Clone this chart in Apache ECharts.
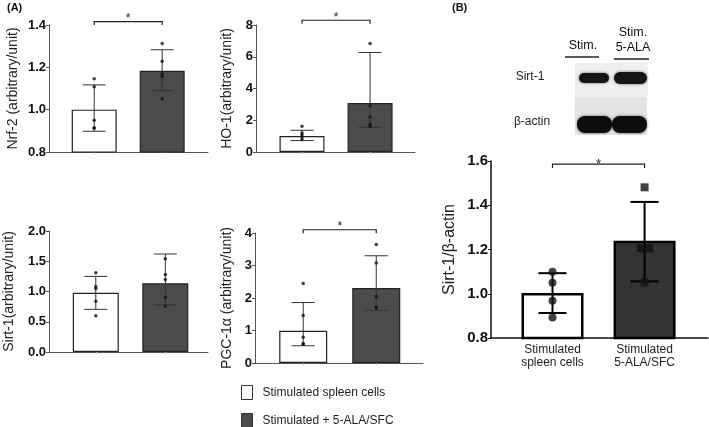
<!DOCTYPE html>
<html>
<head>
<meta charset="utf-8">
<script src="https://cdn.jsdelivr.net/npm/echarts@6/dist/echarts.min.js"></script>
<style>html,body{margin:0;padding:0;background:#fff;}#c{width:709px;height:427px;}</style>
</head>
<body>
<div id="c"></div>
<script>
// ---------------- DATA ----------------
const groupNames = ['Stimulated spleen cells', 'Stimulated + 5-ALA/SFC'];
const groupLabelsB = ['Stimulated\nspleen cells', 'Stimulated\n5-ALA/SFC'];

// Nrf-2
const nrf2Mean = [1.0, 1.184];
const nrf2ErrLow = [0.898, 1.09];
const nrf2ErrHigh = [1.117, 1.283];
const nrf2DotsCtrl = [1.146, 1.108, 0.95, 0.915, 0.912];
const nrf2DotsTrt = [1.313, 1.229, 1.168, 1.158, 1.051];
const nrf2Sig = 1.416;
const nrf2Ticks = [0.8, 1.4, 0.2];

// HO-1
const ho1Mean = [1.01, 3.09];
const ho1ErrLow = [0.72, 1.56];
const ho1ErrHigh = [1.37, 6.27];
const ho1DotsCtrl = [1.62, 1.2, 1.09, 0.95, 0.78];
const ho1DotsTrt = [6.84, 2.9, 2.2, 1.75, 1.6];
const ho1Sig = 8.3;
const ho1Ticks = [0, 8, 2];

// Sirt-1 (A)
const sirtMean = [0.98, 1.135];
const sirtErrLow = [0.705, 0.78];
const sirtErrHigh = [1.25, 1.62];
const sirtDotsCtrl = [1.31, 1.08, 1.05, 0.84, 0.6];
const sirtDotsTrt = [1.54, 1.28, 1.2, 0.9, 0.76];
const sirtSig = null;
const sirtTicks = [0, 2, 0.5];

// PGC-1a
const pgcMean = [0.99, 2.31];
const pgcErrLow = [0.53, 1.62];
const pgcErrHigh = [1.86, 3.3];
const pgcDotsCtrl = [2.45, 1.46, 0.79, 0.6, 0.58];
const pgcDotsTrt = [3.65, 3.08, 2.05, 1.69, 1.72];
const pgcSig = 4.1;
const pgcTicks = [0, 4, 1];

// Sirt-1/beta-actin (B)
const sirtBMean = [1.003, 1.24];
const sirtBErrLow = [0.913, 1.056];
const sirtBErrHigh = [1.093, 1.415];
const sirtBDotsCtrl = [1.1, 1.05, 0.968, 0.893];
const sirtBDotsTrt = [1.481, 1.205, 1.205, 1.051];
const sirtBSig = 1.586;
const sirtBTicks = [0.8, 1.6, 0.2];

// ---------------- LAYOUT ----------------
const FONT = 'Liberation Sans';
const jitterBTrt = [0, -0.04, 0.05, 0];

const panels = [
  {name: 'Nrf-2 (arbitrary/unit)', mean: nrf2Mean, lo: nrf2ErrLow, hi: nrf2ErrHigh, dc: nrf2DotsCtrl, dt: nrf2DotsTrt, sig: nrf2Sig, ticks: nrf2Ticks,
   grid: {left: 49, top: 25, width: 159, height: 127}, xr: [0.335, 2.674], barW: 45, gap: 29, style: 'A'},
  {name: 'HO-1(arbitrary/unit)', mean: ho1Mean, lo: ho1ErrLow, hi: ho1ErrHigh, dc: ho1DotsCtrl, dt: ho1DotsTrt, sig: ho1Sig, ticks: ho1Ticks,
   grid: {left: 256, top: 25, width: 159, height: 127}, xr: [0.324, 2.66], barW: 45, gap: 22, style: 'A'},
  {name: 'Sirt-1(arbitrary/unit)', mean: sirtMean, lo: sirtErrLow, hi: sirtErrHigh, dc: sirtDotsCtrl, dt: sirtDotsTrt, sig: sirtSig, ticks: sirtTicks,
   grid: {left: 49, top: 231, width: 159, height: 121}, xr: [0.327, 2.614], barW: 46, gap: 33, style: 'A'},
  {name: 'PGC-1\u03b1 (arbitrary/unit)', mean: pgcMean, lo: pgcErrLow, hi: pgcErrHigh, dc: pgcDotsCtrl, dt: pgcDotsTrt, sig: pgcSig, ticks: pgcTicks,
   grid: {left: 255, top: 233, width: 168, height: 130}, xr: [0.34, 2.64], barW: 48, gap: 21, style: 'A'},
  {name: 'Sirt-1/\u03b2-actin', mean: sirtBMean, lo: sirtBErrLow, hi: sirtBErrHigh, dc: sirtBDotsCtrl, dt: sirtBDotsTrt, sig: sirtBSig, ticks: sirtBTicks,
   grid: {left: 491, top: 161, width: 217, height: 177}, xr: [0.332, 2.689], barW: 62, gap: 33, style: 'B', jt: jitterBTrt}
];

const grids = [], xAxes = [], yAxes = [], series = [];

function errRender(capHalf, lw, color) {
  return function (params, api) {
    const x = api.value(0);
    const lo = api.coord([x, api.value(1)]);
    const hi = api.coord([x, api.value(2)]);
    const st = {stroke: color, lineWidth: lw};
    return {type: 'group', children: [
      {type: 'line', shape: {x1: lo[0], y1: lo[1], x2: hi[0], y2: hi[1]}, style: st},
      {type: 'line', shape: {x1: lo[0] - capHalf, y1: lo[1], x2: lo[0] + capHalf, y2: lo[1]}, style: st},
      {type: 'line', shape: {x1: hi[0] - capHalf, y1: hi[1], x2: hi[0] + capHalf, y2: hi[1]}, style: st}
    ]};
  };
}
function sigRender(tick, lw, color, starSize, starDy) {
  return function (params, api) {
    const a = api.coord([api.value(0), api.value(2)]);
    const b = api.coord([api.value(1), api.value(2)]);
    return {type: 'group', children: [
      {type: 'polyline', shape: {points: [[a[0], a[1] + tick], [a[0], a[1]], [b[0], b[1]], [b[0], b[1] + tick]]},
       style: {stroke: color, lineWidth: lw, fill: null}},
      {type: 'text', style: {text: '*', x: (a[0] + b[0]) / 2, y: a[1] + starDy, align: 'center', verticalAlign: 'middle',
       font: starSize + 'px ' + FONT, fill: color}}
    ]};
  };
}

panels.forEach((p, i) => {
  const isB = p.style === 'B';
  grids.push(Object.assign({containLabel: false}, p.grid));
  const axisCol = isB ? '#111' : '#555';
  xAxes.push({
    type: 'value', gridIndex: i, min: p.xr[0], max: p.xr[1],
    splitLine: {show: false},
    axisLine: {show: true, onZero: false, lineStyle: {color: axisCol, width: isB ? 1.5 : 1}},
    axisTick: {show: !isB, length: 2, customValues: [1, 2], lineStyle: {color: '#bbb'}},
    axisLabel: isB ? {show: true, customValues: [1, 2], formatter: v => groupLabelsB[Math.round(v) - 1],
      fontFamily: FONT, fontSize: 12, color: '#222', margin: 5, lineHeight: 13} : {show: false}
  });
  yAxes.push({
    type: 'value', gridIndex: i, min: p.ticks[0], max: p.ticks[1], interval: p.ticks[2],
    splitLine: {show: false},
    axisLine: {show: true, lineStyle: {color: axisCol, width: isB ? 1.5 : 1}},
    axisTick: {show: true, length: 3, lineStyle: {color: axisCol}},
    axisLabel: {fontFamily: FONT, fontWeight: 'bold', fontSize: isB ? 15 : 13, color: '#111', margin: 3,
      formatter: v => (p.ticks[2] >= 1 ? String(Math.round(v)) : v.toFixed(1))},
    name: p.name, nameLocation: 'middle', nameRotate: 90, nameGap: p.gap,
    nameTextStyle: {fontFamily: FONT, fontSize: isB ? 16 : 14, color: '#222'}
  });
  const bw = isB ? 2.5 : 1.2;
  const names = isB ? ['B ctrl', 'B trt'] : groupNames;
  series.push({
    type: 'bar', name: names[0], xAxisIndex: i, yAxisIndex: i, barWidth: p.barW, barGap: '-100%', z: 2,
    data: [[1, p.mean[0]]], itemStyle: {color: '#ffffff', borderColor: isB ? '#000' : '#222', borderWidth: bw},
    silent: true
  });
  series.push({
    type: 'bar', name: names[1], xAxisIndex: i, yAxisIndex: i, barWidth: p.barW, barGap: '-100%', z: 2,
    data: [[2, p.mean[1]]], itemStyle: {color: isB ? '#333333' : '#4b4b4b', borderColor: isB ? '#000' : '#222', borderWidth: bw},
    silent: true
  });
  series.push({
    type: 'custom', xAxisIndex: i, yAxisIndex: i, z: 3, silent: true,
    renderItem: errRender(isB ? 14 : 11.5, isB ? 2 : 1, isB ? '#000' : '#333'),
    encode: {x: 0, y: [1, 2]},
    data: [[1, p.lo[0], p.hi[0]], [2, p.lo[1], p.hi[1]]]
  });
  series.push({
    type: 'scatter', xAxisIndex: i, yAxisIndex: i, z: 4, silent: true,
    symbol: 'circle', symbolSize: isB ? 8 : 3.5, itemStyle: {color: '#111'},
    data: p.dc.map(v => [1, v])
  });
  series.push({
    type: 'scatter', xAxisIndex: i, yAxisIndex: i, z: 4, silent: true,
    symbol: isB ? 'rect' : 'circle', symbolSize: isB ? 8 : 3.5, itemStyle: {color: '#111'},
    data: p.dt.map((v, k) => [2 + (p.jt ? p.jt[k] : 0), v])
  });
  if (p.sig !== null) {
    series.push({
      type: 'custom', xAxisIndex: i, yAxisIndex: i, z: 5, silent: true, clip: false,
      renderItem: isB ? sigRender(4, 1.2, '#222', 13, 0) : sigRender(3.5, 1.2, '#222', 12, -3),
      encode: {x: [0, 1], y: 2},
      data: [[1, 2, p.sig]]
    });
  }
});

const graphic = [
  {type: 'rect', shape: {x: 575, y: 63, width: 73, height: 34}, style: {fill: '#efefef'}},
  {type: 'rect', shape: {x: 579, y: 73, width: 30, height: 10, r: 5}, style: {fill: '#151515', shadowBlur: 3, shadowColor: 'rgba(0,0,0,0.6)'}},
  {type: 'rect', shape: {x: 614, y: 72, width: 33, height: 12, r: 6}, style: {fill: '#151515', shadowBlur: 3, shadowColor: 'rgba(0,0,0,0.6)'}},
  {type: 'rect', shape: {x: 575, y: 97, width: 72, height: 38}, style: {fill: '#e4e4e4'}},
  {type: 'rect', shape: {x: 577, y: 116, width: 35, height: 17, r: 8}, style: {fill: '#0d0d0d', shadowBlur: 3, shadowColor: 'rgba(0,0,0,0.6)'}},
  {type: 'rect', shape: {x: 612, y: 116, width: 35, height: 17, r: 8}, style: {fill: '#0d0d0d', shadowBlur: 3, shadowColor: 'rgba(0,0,0,0.6)'}},
  {type: 'text', style: {text: 'Stim.', x: 583, y: 46, align: 'center', verticalAlign: 'middle', font: '12.5px ' + FONT, fill: '#111'}},
  {type: 'line', shape: {x1: 565, y1: 57, x2: 599, y2: 57}, style: {stroke: '#222', lineWidth: 1.5}},
  {type: 'text', style: {text: 'Stim.', x: 633, y: 33, align: 'center', verticalAlign: 'middle', font: '12.5px ' + FONT, fill: '#111'}},
  {type: 'text', style: {text: '5-ALA', x: 633, y: 48, align: 'center', verticalAlign: 'middle', font: '12.5px ' + FONT, fill: '#111'}},
  {type: 'line', shape: {x1: 614, y1: 59, x2: 649, y2: 59}, style: {stroke: '#222', lineWidth: 1.5}},
  {type: 'text', style: {text: 'Sirt-1', x: 530, y: 77, align: 'center', verticalAlign: 'middle', font: '12px ' + FONT, fill: '#222'}},
  {type: 'text', style: {text: '\u03b2-actin', x: 532, y: 122, align: 'center', verticalAlign: 'middle', font: '12px ' + FONT, fill: '#222'}},
  {type: 'text', style: {text: '(A)', x: 7, y: 2, font: 'bold 11px ' + FONT, fill: '#111'}},
  {type: 'text', style: {text: '(B)', x: 452, y: 2, font: 'bold 11px ' + FONT, fill: '#111'}}
];

const chart = echarts.init(document.getElementById('c'), null, {renderer: 'canvas'});
chart.setOption({
  animation: false,
  backgroundColor: '#fff',
  textStyle: {fontFamily: FONT},
  grid: grids,
  xAxis: xAxes,
  yAxis: yAxes,
  legend: {
    orient: 'vertical', left: 241, top: 385, itemWidth: 11, itemHeight: 14, itemGap: 13, padding: 0,
    height: 60,
    selectedMode: false,
    textStyle: {fontFamily: FONT, fontSize: 12, color: '#222', padding: [0, 0, 0, 5]},
    data: [
      {name: groupNames[0], icon: 'rect', itemStyle: {color: '#fff', borderColor: '#333', borderWidth: 1}},
      {name: groupNames[1], icon: 'rect', itemStyle: {color: '#4b4b4b', borderColor: '#333', borderWidth: 1}}
    ]
  },
  graphic: graphic,
  series: series
});
</script>
</body>
</html>
